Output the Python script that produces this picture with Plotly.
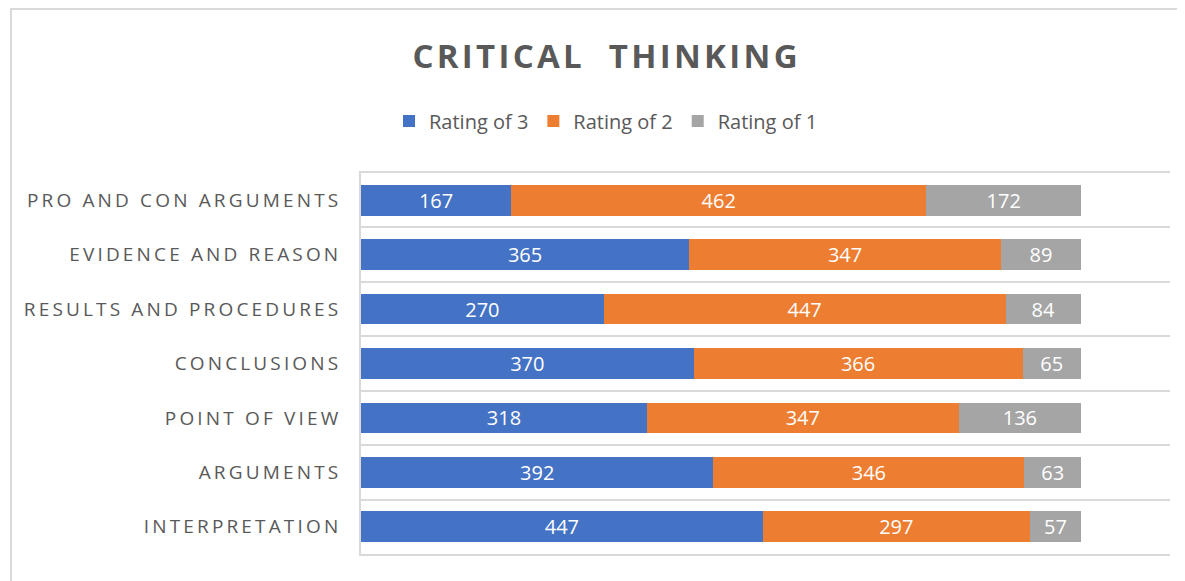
import plotly.graph_objects as go

# ---- data (bottom to top) ----
categories = ["INTERPRETATION", "ARGUMENTS", "POINT OF VIEW", "CONCLUSIONS",
              "RESULTS AND PROCEDURES", "EVIDENCE AND REASON", "PRO AND CON ARGUMENTS"]
rating3 = [447, 392, 318, 370, 270, 365, 167]
rating2 = [297, 346, 347, 366, 447, 347, 462]
rating1 = [57, 63, 136, 65, 84, 89, 172]
series_names = ["Rating of 3", "Rating of 2", "Rating of 1"]
title_text = "CRITICAL  THINKING"

colors = ["#4472C4", "#ED7D31", "#A5A5A5"]

THIN = "\u2009"
HAIR = "\u200A"


def spaced(s, sp):
    return sp.join(list(s))


tick_text = [spaced(c, THIN) for c in categories]

# page body offset (default 8px margin)
OX, OY = 8, 8
W, H = 1185, 581
# target screen positions of plot area
PX0, PX1, PY0, PY1 = 361, 1170, 173, 554
L = PX0 - OX
T = PY0 - OY
R = W - (PX1 - OX)
B = H - (PY1 - OY)
pw = PX1 - PX0
ph = PY1 - PY0

fig = go.Figure()
for name, vals, col in zip(series_names, [rating3, rating2, rating1], colors):
    fig.add_trace(go.Bar(
        y=categories, x=vals, name=name, orientation="h",
        marker=dict(color=col, line=dict(width=0)),
        text=[str(v) for v in vals], textposition="inside",
        insidetextanchor="middle", textangle=0,
        textfont=dict(family="Open Sans", size=20, color="white"),
    ))


def sx(px):
    return (px - PX0) / pw


def sy(py):
    return (PY1 - py) / ph


fig.update_layout(
    width=W, height=H,
    margin=dict(l=L, r=R, t=T, b=B),
    barmode="stack", bargap=0.435,
    paper_bgcolor="white", plot_bgcolor="white",
    uniformtext=dict(minsize=20, mode="show"),
    title=dict(text=spaced(title_text, HAIR), x=(605 - OX) / W, xanchor="center",
               y=1 - (56 - OY) / H, yanchor="middle", yref="container",
               font=dict(family="Open Sans", size=33, color="#595959", weight="bold")),
    legend=dict(orientation="h", x=sx(606), xanchor="center",
                y=sy(121), yanchor="middle",
                font=dict(family="Open Sans", size=20, color="#595959"),
                traceorder="normal"),
    xaxis=dict(range=[0, 900], showgrid=False, showticklabels=False, zeroline=False,
               showline=True, mirror=True, linecolor="#d9d9d9", linewidth=2,
               fixedrange=True),
    yaxis=dict(categoryorder="array", categoryarray=categories,
               tickmode="array", tickvals=categories, ticktext=tick_text,
               tickson="boundaries", showgrid=True, gridcolor="#d9d9d9", gridwidth=2,
               showline=True, linecolor="#d9d9d9", linewidth=2,
               ticks="", ticklabelstandoff=17, range=[-0.5, 6.5],
               tickfont=dict(family="Open Sans", size=19, color="#595959")),
    shapes=[dict(type="rect", xref="paper", yref="paper",
                 x0=sx(11), x1=sx(1200),
                 y0=sy(600), y1=sy(9),
                 line=dict(color="#d9d9d9", width=2), layer="below")],
)

fig.write_html("out.html")
